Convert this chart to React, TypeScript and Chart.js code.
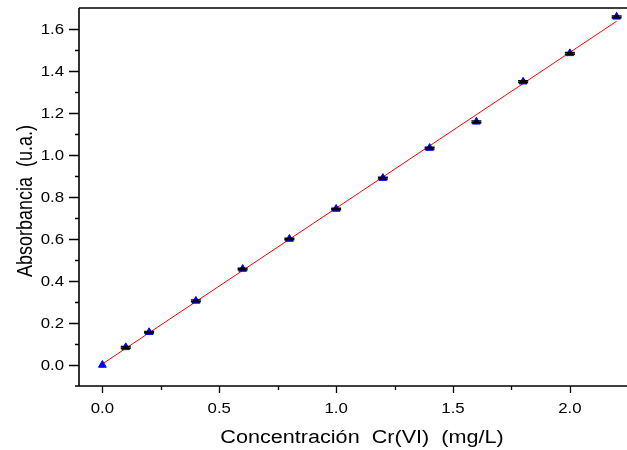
import React, { useEffect, useRef } from "react";
import { Chart, registerables } from "chart.js";

Chart.register(...registerables);

const concentrations = [0, 0.1, 0.2, 0.4, 0.6, 0.8, 1.0, 1.2, 1.4, 1.6, 1.8, 2.0, 2.2];
const absorbances = [0.0, 0.084, 0.156, 0.305, 0.457, 0.6, 0.743, 0.89, 1.033, 1.158, 1.349, 1.484, 1.658];
const errors = [0, 0.004, 0.004, 0.004, 0.004, 0.004, 0.004, 0.004, 0.004, 0.004, 0.004, 0.004, 0.004];
const fitX = [0, 2.2];
const fitY = [0.005, 1.637];
const xTickLabels = [0, 0.5, 1.0, 1.5, 2.0];
const yTickLabels = [0, 0.2, 0.4, 0.6, 0.8, 1.0, 1.2, 1.4, 1.6];
const xMinorTicks = [0.25, 0.75, 1.25, 1.75, 2.25];
const yMinorTicks = [0.1, 0.3, 0.5, 0.7, 0.9, 1.1, 1.3, 1.5];
const xTitle = "Concentración  Cr(VI)  (mg/L)";
const yTitle = "Absorbancia  (u.a.)";

const FONT = "'Liberation Sans', Arial, Helvetica, sans-serif";
const STRETCH = 1.2;
const CANVAS_W = 660;
const CANVAS_H = 450;

function stretchedText(
  ctx: CanvasRenderingContext2D,
  text: string,
  x: number,
  y: number,
  size: number,
  align: CanvasTextAlign,
  rotate = false
) {
  ctx.save();
  ctx.translate(x, y);
  ctx.scale(STRETCH, 1);
  if (rotate) ctx.rotate(-Math.PI / 2);
  ctx.font = `${size}px ${FONT}`;
  ctx.fillStyle = "#000";
  ctx.textAlign = align;
  ctx.textBaseline = "alphabetic";
  ctx.fillText(text, 0, 0);
  ctx.restore();
}

const framePlugin = {
  id: "frame",
  afterDatasetsDraw(chart: any) {
    const { ctx, scales } = chart;
    const x = scales.x;
    const y = scales.y;
    ctx.save();
    ctx.strokeStyle = "#000";
    ctx.lineWidth = 1.5;
    for (let i = 0; i < concentrations.length; i++) {
      const e = errors[i];
      if (!e) continue;
      const px = x.getPixelForValue(concentrations[i]);
      const pTop = y.getPixelForValue(absorbances[i] + e);
      const pBot = y.getPixelForValue(absorbances[i] - e);
      ctx.beginPath();
      ctx.moveTo(px, pTop);
      ctx.lineTo(px, pBot);
      ctx.moveTo(px - 5, pTop);
      ctx.lineTo(px + 5, pTop);
      ctx.moveTo(px - 5, pBot);
      ctx.lineTo(px + 5, pBot);
      ctx.stroke();
    }
    ctx.restore();
  },
  afterDraw(chart: any) {
    const { ctx, chartArea, scales } = chart;
    const { left, right, top, bottom } = chartArea;
    const x = scales.x;
    const y = scales.y;
    ctx.save();
    ctx.strokeStyle = "#000";
    ctx.lineWidth = 1.6;
    ctx.beginPath();
    ctx.moveTo(left, top);
    ctx.lineTo(right, top);
    ctx.moveTo(left, top);
    ctx.lineTo(left, bottom);
    ctx.moveTo(left - 4, bottom);
    ctx.lineTo(right, bottom);
    ctx.stroke();
    ctx.lineWidth = 1.3;
    ctx.beginPath();
    xTickLabels.forEach((v) => {
      const p = Math.round(x.getPixelForValue(v)) + 0.5;
      ctx.moveTo(p, bottom);
      ctx.lineTo(p, bottom + 7);
    });
    xMinorTicks.forEach((v) => {
      const p = Math.round(x.getPixelForValue(v)) + 0.5;
      ctx.moveTo(p, bottom);
      ctx.lineTo(p, bottom + 4);
    });
    yTickLabels.forEach((v) => {
      const p = Math.round(y.getPixelForValue(v)) + 0.5;
      ctx.moveTo(left, p);
      ctx.lineTo(left - 10, p);
    });
    yMinorTicks.forEach((v) => {
      const p = Math.round(y.getPixelForValue(v)) + 0.5;
      ctx.moveTo(left, p);
      ctx.lineTo(left - 4, p);
    });
    ctx.stroke();
    ctx.restore();

    // tick labels
    xTickLabels.forEach((v) => {
      stretchedText(ctx, v.toFixed(1), x.getPixelForValue(v), bottom + 27, 14, "center");
    });
    yTickLabels.forEach((v) => {
      stretchedText(ctx, v.toFixed(1), left - 15, y.getPixelForValue(v) + 5, 14, "right");
    });
    // axis titles
    stretchedText(ctx, xTitle, (left + right) / 2 + 2.5, bottom + 57, 18, "center");
    stretchedText(ctx, yTitle, left - 47, (top + bottom) / 2 + 4, 18, "center", true);
  },
};

export default function App() {
  const ref = useRef<HTMLCanvasElement | null>(null);

  useEffect(() => {
    if (!ref.current) return;
    const chart = new Chart(ref.current, {
      type: "scatter",
      data: {
        datasets: [
          {
            type: "line",
            label: "fit",
            data: fitX.map((v, i) => ({ x: v, y: fitY[i] })),
            borderColor: "#ff0000",
            borderWidth: 1,
            pointRadius: 0,
            fill: false,
            order: 2,
          },
          {
            type: "scatter",
            label: "data",
            data: concentrations.map((v, i) => ({ x: v, y: absorbances[i] })),
            pointStyle: "triangle",
            pointRadius: 4.5,
            backgroundColor: "#0000ff",
            borderColor: "#0000ff",
            borderWidth: 1,
            order: 1,
          },
        ],
      },
      options: {
        responsive: false,
        animation: false,
        devicePixelRatio: 1,
        layout: { padding: { top: 8, right: CANVAS_W - 640, left: 0, bottom: 0 } },
        plugins: { legend: { display: false }, tooltip: { enabled: false } },
        scales: {
          x: {
            type: "linear",
            min: -0.1,
            max: 2.3,
            afterFit: (s: any) => {
              s.height = 64;
              s.paddingLeft = 0;
              s.paddingRight = 0;
            },
            grid: { display: false, drawTicks: false },
            border: { display: false },
            ticks: { display: false },
            title: { display: false },
          },
          y: {
            type: "linear",
            min: -0.1,
            max: 1.7,
            afterFit: (s: any) => {
              s.width = 79;
              s.paddingTop = 0;
              s.paddingBottom = 0;
            },
            grid: { display: false, drawTicks: false },
            border: { display: false },
            ticks: { display: false },
            title: { display: false },
          },
        },
      },
      plugins: [framePlugin],
    });
    return () => chart.destroy();
  }, []);

  return (
    <div
      style={{
        position: "fixed",
        left: 0,
        top: 0,
        width: 627,
        height: 450,
        overflow: "hidden",
        background: "#fff",
      }}
    >
      <canvas
        ref={ref}
        width={CANVAS_W}
        height={CANVAS_H}
        style={{ width: CANVAS_W, height: CANVAS_H, display: "block" }}
      />
    </div>
  );
}
